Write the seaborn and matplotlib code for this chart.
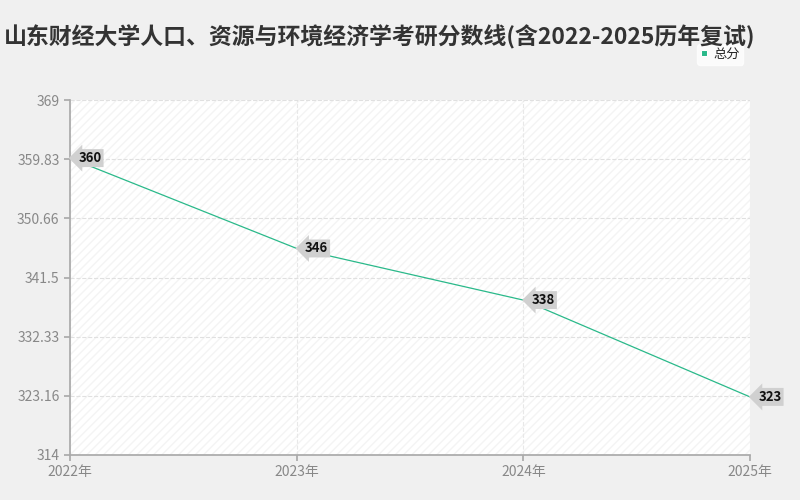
import matplotlib
matplotlib.use("Agg")
import matplotlib.pyplot as plt
import numpy as np
import pandas as pd
import seaborn as sns

years = ["2022年", "2023年", "2024年", "2025年"]
scores = [360, 346, 338, 323]
yticks = [314, 323.16, 332.33, 341.5, 350.66, 359.83, 369]
ytick_labels = ["314", "323.16", "332.33", "341.5", "350.66", "359.83", "369"]
title = "山东财经大学人口、资源与环境经济学考研分数线(含2022-2025历年复试)"

sns.set_theme(style="white")
plt.rcParams["font.family"] = ["Noto Sans CJK SC", "DejaVu Sans"]

df = pd.DataFrame({"x": np.arange(len(years)), "score": scores})

fig = plt.figure(figsize=(8, 5), dpi=100, facecolor="#f0f0f0")
ax = fig.add_axes([0.0875, 0.09, 0.85, 0.71])
ax.set_facecolor("white")
ax.add_patch(plt.Rectangle((0, 0), 1, 1, transform=ax.transAxes, fill=False,
                           hatch="////", edgecolor="#f4f4f4", linewidth=0, zorder=0))

sns.lineplot(data=df, x="x", y="score", ax=ax, color="#2ab98a", linewidth=0.9, label="总分")

for xi, v in zip(df["x"], df["score"]):
    ax.annotate(str(v), (xi, v), xytext=(6, 0), textcoords="offset points",
                ha="left", va="center", fontsize=9.5, fontweight="bold", color="#111111",
                bbox=dict(boxstyle="larrow,pad=0.15", fc="#d0d0d0", ec="none"), zorder=5)

ax.set_xlim(0, 3)
ax.set_ylim(314, 369)
ax.set_xticks(range(len(years)))
ax.set_xticklabels(years, color="#888888", fontsize=10)
ax.set_yticks(yticks)
ax.set_yticklabels(ytick_labels, color="#888888", fontsize=10)
ax.set_xlabel("")
ax.set_ylabel("")
ax.grid(axis="y", color="#e0e0e0", linestyle="--", linewidth=0.8)
ax.grid(axis="x", color="#e8e8e8", linestyle="--", linewidth=0.8)
for s in ["top", "right"]:
    ax.spines[s].set_visible(False)
for s in ["left", "bottom"]:
    ax.spines[s].set_color("#aaaaaa")
ax.tick_params(axis="both", length=4, color="#aaaaaa", left=True, bottom=True)

leg = ax.legend(loc="lower right", bbox_to_anchor=(1.0, 1.08), fontsize=9.5, frameon=True,
                handlelength=0.4, handletextpad=0.5, borderpad=0.3)
leg.get_frame().set_edgecolor("#ffffff")
for h in leg.get_lines():
    h.set_linewidth(0)
    h.set_marker("s")
    h.set_markersize(4)
    h.set_color("#2ab98a")

fig.text(0.475, 0.925, title, ha="center", va="center", fontsize=16.5, fontweight="bold", color="#333333")
fig.savefig("out.png", dpi=100, facecolor=fig.get_facecolor())
